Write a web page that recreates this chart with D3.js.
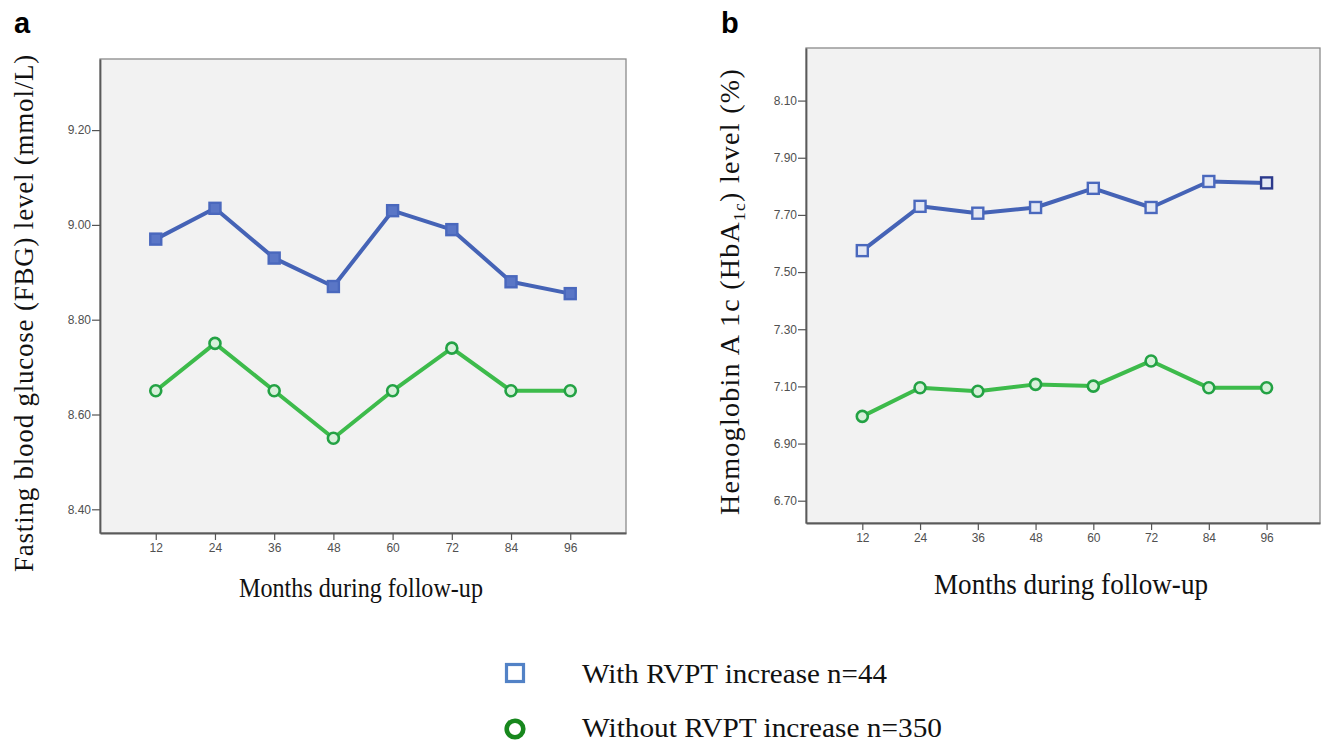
<!DOCTYPE html>
<html>
<head>
    <meta charset="utf-8">
    <title>FBG and HbA1c follow-up</title>
    <script src="https://d3js.org/d3.v7.min.js"></script>
    <style>
        body {
            margin: 0;
            background: #fff;
        }

        .tick-label {
            font-family: "Liberation Sans Narrow", "Arial Narrow", "Liberation Sans", sans-serif;
            font-size: 12px;
            fill: #505050;
        }

        .serif {
            font-family: "Liberation Serif", "Times New Roman", serif;
            fill: #111;
        }

        .panel-letter {
            font-family: "Liberation Sans", Arial, sans-serif;
            font-weight: bold;
            font-size: 29px;
            fill: #000;
        }
    </style>
</head>
<body>
    <svg id="chart" width="1322" height="743"></svg>

    <script>
        // values
        const months = [12, 24, 36, 48, 60, 72, 84, 96];
        const fbgWith = [8.97, 9.035, 8.93, 8.87, 9.03, 8.99, 8.88, 8.855];
        const fbgWithout = [8.65, 8.75, 8.65, 8.55, 8.65, 8.74, 8.65, 8.65];
        const hbaWith = [7.575, 7.73, 7.706, 7.726, 7.793, 7.726, 7.817, 7.812];
        const hbaWithout = [6.995, 7.095, 7.083, 7.107, 7.101, 7.189, 7.095, 7.095];
        const fbgTicks = [8.40, 8.60, 8.80, 9.00, 9.20];
        const hbaTicks = [6.70, 6.90, 7.10, 7.30, 7.50, 7.70, 7.90, 8.10];
        const groupNames = ["With RVPT increase n=44", "Without RVPT increase n=350"];

        const blueLine = "#4563b6";
        const greenLine = "#3dbb4b";

        const svg = d3.select("#chart");

        const panels = [
            {
                letter: "a", lx: 14, box: { left: 100, right: 626, top: 59, bottom: 533 },
                xDomain: [0.7, 107.3], yDomain: [8.35, 9.35], ticks: fbgTicks,
                withVals: fbgWith, withoutVals: fbgWithout, squareFill: "#5a76c6",
                yTitle: { x: 33, y0: 54, y1: 572, size: 27 },
                xTitle: { cx: 361, y: 597, width: 244, size: 27 }
            },
            {
                letter: "b", lx: 721, box: { left: 806, right: 1320, top: 48, bottom: 523 },
                xDomain: [0.3, 107.1], yDomain: [6.622, 8.284], ticks: hbaTicks,
                withVals: hbaWith, withoutVals: hbaWithout, squareFill: "#e4e8f4",
                yTitle: { x: 739, y0: 68, y1: 515, size: 28 },
                xTitle: { cx: 1071, y: 594, width: 274, size: 30 }
            }
        ];

        function drawPanel(p) {
            const g = svg.append("g");
            const x = d3.scaleLinear().domain(p.xDomain).range([p.box.left, p.box.right]);
            const y = d3.scaleLinear().domain(p.yDomain).range([p.box.bottom, p.box.top]);

            g.append("rect")
                .attr("x", p.box.left).attr("y", p.box.top)
                .attr("width", p.box.right - p.box.left)
                .attr("height", p.box.bottom - p.box.top)
                .attr("fill", "#f2f2f2")
                .attr("stroke", "#8a8a8a")
                .attr("stroke-width", 1.3);

            const yAxis = g.append("g")
                .attr("transform", `translate(${p.box.left},0)`)
                .call(d3.axisLeft(y).tickValues(p.ticks).tickFormat(d3.format(".2f"))
                    .tickSizeInner(8).tickSizeOuter(0).tickPadding(1));
            const xAxis = g.append("g")
                .attr("transform", `translate(0,${p.box.bottom})`)
                .call(d3.axisBottom(x).tickValues(months).tickSizeInner(7).tickSizeOuter(0).tickPadding(3));

            [yAxis, xAxis].forEach(ax => {
                ax.select(".domain").attr("stroke", "#5a5a5a").attr("stroke-width", 1.8);
                ax.selectAll(".tick line").attr("stroke", "#555").attr("stroke-width", 1.2);
                ax.selectAll(".tick text").attr("class", "tick-label").attr("font-family", null).attr("font-size", null);
            });

            const line = d3.line().x((d, i) => x(months[i])).y(d => y(d));

            g.append("path").datum(p.withoutVals)
                .attr("d", line).attr("fill", "none")
                .attr("stroke", greenLine).attr("stroke-width", 4).attr("stroke-linejoin", "round");
            g.append("path").datum(p.withVals)
                .attr("d", line).attr("fill", "none")
                .attr("stroke", blueLine).attr("stroke-width", 4).attr("stroke-linejoin", "round");

            g.selectAll(".mk-c").data(p.withoutVals).enter().append("circle")
                .attr("cx", (d, i) => x(months[i]))
                .attr("cy", d => y(d))
                .attr("r", 5.5)
                .attr("fill", "#d7f0da")
                .attr("stroke", "#23a244")
                .attr("stroke-width", 2.6);

            g.selectAll(".mk-s").data(p.withVals).enter().append("rect")
                .attr("x", (d, i) => x(months[i]) - 5.5)
                .attr("y", d => y(d) - 5.5)
                .attr("width", 11).attr("height", 11)
                .attr("fill", p.squareFill)
                .attr("stroke", (d, i) => (p.letter === "b" && i === months.length - 1) ? "#2c3a8c" : "#4a68bd")
                .attr("stroke-width", 2.4);

            svg.append("text")
                .attr("class", "panel-letter")
                .attr("x", p.lx).attr("y", 33)
                .text(p.letter);

            // y axis title, rotated
            const yt = svg.append("text")
                .attr("class", "serif")
                .attr("font-size", p.yTitle.size)
                .attr("transform", `translate(${p.yTitle.x},${p.yTitle.y1}) rotate(-90)`)
                .attr("x", 0).attr("y", 0);
            if (p.letter === "a") {
                yt.text("Fasting blood glucose (FBG) level (mmol/L)");
            } else {
                yt.append("tspan").text("Hemoglobin A 1c (HbA");
                yt.append("tspan").attr("font-size", p.yTitle.size * 0.62).attr("dy", 6).text("1c");
                yt.append("tspan").attr("dy", -6).text(") level (%)");
            }
            const target = p.yTitle.y1 - p.yTitle.y0;
            const natural = yt.node().getComputedTextLength();
            const nChars = yt.text().length;
            yt.style("letter-spacing", ((target - natural) / nChars) + "px");

            svg.append("text")
                .attr("class", "serif")
                .attr("font-size", p.xTitle.size)
                .attr("x", p.xTitle.cx - p.xTitle.width / 2)
                .attr("y", p.xTitle.y)
                .attr("textLength", p.xTitle.width)
                .attr("lengthAdjust", "spacingAndGlyphs")
                .text("Months during follow-up");
        }

        panels.forEach(drawPanel);

        // legend
        const legendWidths = [305, 360];
        const legend = svg.append("g");
        legend.append("rect")
            .attr("x", 506.5).attr("y", 664.5)
            .attr("width", 17).attr("height", 17)
            .attr("fill", "#fff")
            .attr("stroke", "#5282c6")
            .attr("stroke-width", 3.2);
        legend.append("circle")
            .attr("cx", 515).attr("cy", 729)
            .attr("r", 8.3)
            .attr("fill", "#fff")
            .attr("stroke", "#17871d")
            .attr("stroke-width", 4.6);
        legend.selectAll(".lg-text").data(groupNames).enter().append("text")
            .attr("class", "serif")
            .attr("font-size", 28)
            .attr("x", 582)
            .attr("y", (d, i) => 683 + i * 54)
            .attr("textLength", (d, i) => legendWidths[i])
            .attr("lengthAdjust", "spacingAndGlyphs")
            .text(d => d);
    </script>
</body>
</html>
